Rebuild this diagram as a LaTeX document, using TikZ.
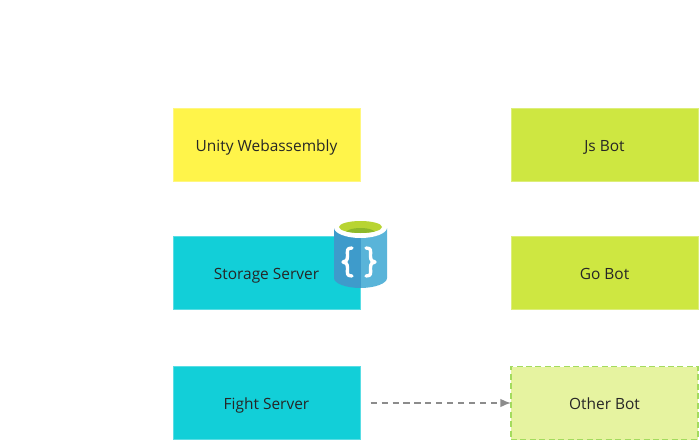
\documentclass[tikz,border=0pt]{standalone}
\usepackage{fontspec}
\setmainfont{Open Sans}
\usetikzlibrary{arrows.meta}
\tikzset{
  px/.style={x=0.75pt,y=-0.75pt},
  box/.style={minimum width=140.25pt,minimum height=54.75pt,inner sep=0pt,outer sep=0pt,text height=11pt,text depth=1.2pt,draw=#1!70!white,line width=0.75pt,fill=#1,text=black!85,font=\fontsize{11.6pt}{14pt}\selectfont},
  flow/.style={draw=black!45,line width=1.2pt,dash pattern=on 4.6pt off 3.6pt,-{Latex[length=8pt,width=6.5pt]},shorten <=8pt},
  bracestroke/.style={draw=white,line width=2.5pt,line cap=round,line join=round}
}
\definecolor{uy}{HTML}{FFF44A}
\definecolor{cy}{HTML}{12CFD8}
\definecolor{gn}{HTML}{CEE741}
\definecolor{lg}{HTML}{E6F3A0}
\definecolor{dashg}{HTML}{A3DB5E}
\definecolor{cylL}{HTML}{3E9BCB}
\definecolor{cylR}{HTML}{59B4D9}
\definecolor{rim}{HTML}{FFFFFF}
\definecolor{liq}{HTML}{B8D432}
\definecolor{liqD}{HTML}{8DB82A}
\begin{document}
\begin{tikzpicture}[px]
\useasboundingbox (0,0) rectangle (700,446);
\fill[white] (0,0) rectangle (700,446);
\node[box=uy] (unity) at (266.5,144.5) {Unity Webassembly};
\node[box=cy] (storage) at (266.5,273) {Storage Server};
\node[box=cy] (fight) at (266.5,403) {Fight Server};
\node[box=gn] (js) at (604.5,144.5) {Js Bot};
\node[box=gn] (go) at (604.5,273) {Go Bot};
\node[box=lg,draw=dashg,dashed,line width=1.1pt,dash pattern=on 4.5pt off 2.6pt] (other) at (604.5,403) {Other Bot};
\draw[flow] (fight) -- (other);
% database icon
\fill[cylR] (360,228) -- (360,288) .. controls (375,288) and (387,283.5) .. (387,278) -- (387,228) -- cycle;
\fill[cylL] (334,228) -- (334,278) .. controls (334,283.5) and (346,288) .. (360.8,288) -- (360.8,228) -- cycle;
\fill[rim] (360.5,227.5) ellipse[x radius=26.5,y radius=10.5];
\fill[liq] (360.5,227) ellipse[x radius=21.5,y radius=6];
\begin{scope}
\clip (360.5,227) ellipse[x radius=21.5,y radius=6];
\fill[liqD] (360.5,234) ellipse[x radius=16,y radius=6];
\end{scope}
\draw[bracestroke] (352,248) .. controls (346,248) and (347.5,251) .. (347.5,256) .. controls (347.5,260) and (346,262) .. (343,262) .. controls (346,262) and (347.5,264) .. (347.5,268) .. controls (347.5,273) and (346,276) .. (352,276);
\draw[bracestroke] (366,248) .. controls (372,248) and (370.5,251) .. (370.5,256) .. controls (370.5,260) and (372,262) .. (375,262) .. controls (372,262) and (370.5,264) .. (370.5,268) .. controls (370.5,273) and (372,276) .. (366,276);
\end{tikzpicture}
\end{document}
